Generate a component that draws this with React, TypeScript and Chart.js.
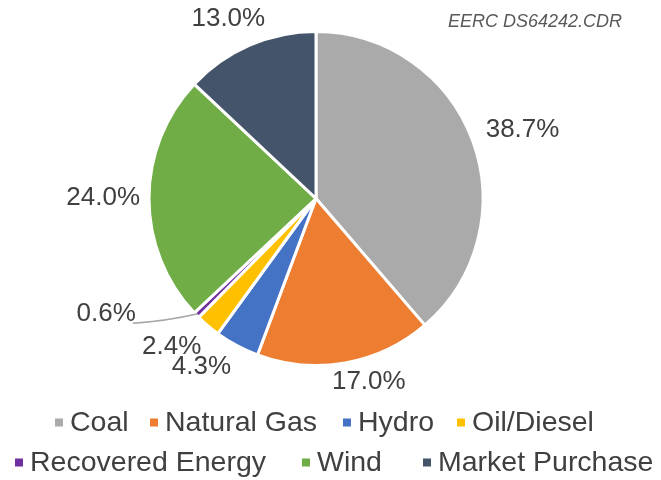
import React, { useEffect, useRef } from "react";
import { Chart, registerables } from "chart.js";

Chart.register(...registerables);

// Energy sources and their share of the supply mix (%)
const sources = [
  "Coal",
  "Natural Gas",
  "Hydro",
  "Oil/Diesel",
  "Recovered Energy",
  "Wind",
  "Market Purchase",
];
const shares = [38.7, 17.0, 4.3, 2.4, 0.6, 24.0, 13.0];
const sliceColors = [
  "#aaaaaa",
  "#ed7d31",
  "#4472c4",
  "#ffc000",
  "#7030a0",
  "#70ad47",
  "#44546a",
];
const sourceNote = "EERC DS64242.CDR";

const FONT = "'Liberation Sans', Arial, Helvetica, sans-serif";

// Percentage labels placed just outside each slice, with small placement tweaks
const pieLabels = {
  id: "pieLabels",
  afterDatasetsDraw(chart: any, _args: any, opts: any) {
    const ctx = chart.ctx as CanvasRenderingContext2D;
    const meta = chart.getDatasetMeta(0);
    const values = chart.data.datasets[0].data as number[];
    ctx.save();
    ctx.font = `${opts.size}px ${FONT}`;
    ctx.textAlign = "center";
    ctx.textBaseline = "middle";
    meta.data.forEach((arc: any, i: number) => {
      const { x, y, startAngle, endAngle, outerRadius } = arc.getProps(
        ["x", "y", "startAngle", "endAngle", "outerRadius"],
        true
      );
      const mid = (startAngle + endAngle) / 2;
      const text = `${Number(values[i]).toFixed(1)}%`;
      const w = ctx.measureText(text).width;
      const h = opts.size * 0.75;
      const c = Math.cos(mid);
      const s = Math.sin(mid);
      const d = outerRadius + opts.gap + (Math.abs(c) * w) / 2 + (Math.abs(s) * h) / 2;
      const [dx, dy] = opts.nudges[i] || [0, 0];
      const lx = x + c * d + dx;
      const ly = y + s * d + dy;
      if (opts.leaders[i]) {
        ctx.strokeStyle = opts.leaderColor;
        ctx.lineWidth = 1.5;
        ctx.beginPath();
        ctx.moveTo(x + c * (outerRadius - 2), y + s * (outerRadius - 2));
        ctx.quadraticCurveTo(
          (x + c * outerRadius + lx + w / 2) / 2,
          (y + s * outerRadius + ly + 9) / 2 + 2,
          lx + w / 2 - 3,
          ly + 9
        );
        ctx.stroke();
      }
      ctx.fillStyle = opts.color;
      ctx.fillText(text, lx, ly);
    });

    ctx.font = `italic 18px ${FONT}`;
    ctx.fillStyle = "#595959";
    ctx.fillText(sourceNote, 535, 22);
    ctx.restore();
  },
};

// Two-row legend beneath the pie: small square swatch followed by the source name
const pieLegend = {
  id: "pieLegend",
  afterDraw(chart: any, _args: any, opts: any) {
    const ctx = chart.ctx as CanvasRenderingContext2D;
    const labels = chart.data.labels as string[];
    const colors = chart.data.datasets[0].backgroundColor as string[];
    ctx.save();
    ctx.font = `${opts.size}px ${FONT}`;
    ctx.textAlign = "left";
    ctx.textBaseline = "middle";
    opts.rows.forEach((row: any) => {
      row.items.forEach((idx: number, k: number) => {
        const bx = row.x[k];
        ctx.fillStyle = colors[idx];
        ctx.fillRect(bx, row.y - opts.box / 2, opts.box, opts.box);
        ctx.fillStyle = opts.color;
        ctx.fillText(labels[idx], bx + opts.box + opts.textGap, row.y + 1);
      });
    });
    ctx.restore();
  },
};

export default function App() {
  const canvasRef = useRef<HTMLCanvasElement | null>(null);

  useEffect(() => {
    if (!canvasRef.current) return;
    const chart = new Chart(canvasRef.current, {
      type: "pie",
      data: {
        labels: sources,
        datasets: [
          {
            data: shares,
            backgroundColor: sliceColors,
            borderColor: "#ffffff",
            borderWidth: 3,
            radius: 167,
          } as any,
        ],
      },
      options: {
        responsive: false,
        animation: false,
        devicePixelRatio: 1,
        layout: { padding: { top: -1, bottom: 83, left: 0, right: 29 } },
        plugins: {
          tooltip: { enabled: false },
          legend: { display: false },
          pieLabels: {
            size: 26,
            gap: 10,
            color: "#404040",
            leaderColor: "#a6a6a6",
            nudges: [
              [5, 6],
              [19, -7],
              [-20, -7],
              [-12.5, -7],
              [-63, -27.5],
              [1, -1],
              [-8, 4],
            ],
            leaders: [false, false, false, false, true, false, false],
          },
          pieLegend: {
            size: 28.5,
            box: 8,
            textGap: 7,
            color: "#404040",
            rows: [
              { y: 422.5, items: [0, 1, 2, 3], x: [55, 150, 343, 457] },
              { y: 462.5, items: [4, 5, 6], x: [15, 302, 423] },
            ],
          },
        } as any,
      },
      plugins: [pieLabels, pieLegend],
    });
    return () => chart.destroy();
  }, []);

  return (
    <div style={{ position: "absolute", left: 0, top: 0, width: 661, height: 480, background: "#ffffff" }}>
      <canvas ref={canvasRef} width={661} height={480} style={{ display: "block" }} />
    </div>
  );
}
